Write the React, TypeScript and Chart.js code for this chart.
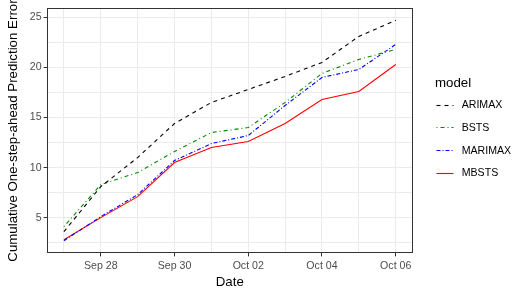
import React, { useEffect, useRef } from 'react';
import { Chart, registerables } from 'chart.js';

Chart.register(...registerables);

// ---- data ----
const dates = ['Sep 27', 'Sep 28', 'Sep 29', 'Sep 30', 'Oct 01', 'Oct 02', 'Oct 03', 'Oct 04', 'Oct 05', 'Oct 06'];
const xTickLabels = ['Sep 28', 'Sep 30', 'Oct 02', 'Oct 04', 'Oct 06'];
const yTickLabels = [5, 10, 15, 20, 25];
const models = ['ARIMAX', 'BSTS', 'MARIMAX', 'MBSTS'];

const arimax = [3.6, 8.1, 11.0, 14.4, 16.5, 17.8, 19.1, 20.5, 23.1, 24.7];
const bsts = [4.1, 8.3, 9.5, 11.6, 13.5, 14.0, 16.5, 19.4, 20.8, 21.8];
const marimax = [2.7, 5.1, 7.3, 10.7, 12.4, 13.2, 16.2, 19.0, 19.8, 22.3];
const mbsts = [2.8, 5.0, 7.1, 10.5, 12.0, 12.6, 14.4, 16.8, 17.6, 20.3];

const seriesValues = [arimax, bsts, marimax, mbsts];

// ---- styles ----
const lineColors = ['#000000', '#008B00', '#0000FF', '#FF0000'];
const lineDashes = [[4, 4], [1, 3, 4, 3], [4, 2, 1, 2], []];

const FONT = '"Liberation Sans", Arial, Helvetica, sans-serif';

const panelPlugin = {
  id: 'panelAndLegend',
  afterDraw(chart: any) {
    const { ctx, chartArea: a } = chart;
    ctx.save();
    ctx.strokeStyle = '#333333';
    ctx.lineWidth = 1;
    ctx.setLineDash([]);
    ctx.strokeRect(Math.round(a.left) + 0.5, Math.round(a.top) + 0.5, Math.round(a.right - a.left), Math.round(a.bottom - a.top));

    const lx = a.right + 22.7;
    ctx.fillStyle = '#000000';
    ctx.textBaseline = 'middle';
    ctx.textAlign = 'left';
    ctx.font = `13.3px ${FONT}`;
    ctx.fillText('model', lx, 83);
    chart.data.datasets.forEach((ds: any, i: number) => {
      const y = 104.5 + i * 22.8;
      ctx.strokeStyle = ds.borderColor;
      ctx.lineWidth = ds.borderWidth;
      ctx.setLineDash(ds.borderDash || []);
      ctx.beginPath();
      ctx.moveTo(lx + 1.5, Math.round(y) + 0.5);
      ctx.lineTo(lx + 18.5, Math.round(y) + 0.5);
      ctx.stroke();
      ctx.setLineDash([]);
      ctx.fillStyle = '#000000';
      ctx.font = `10.6px ${FONT}`;
      ctx.fillText(ds.label, lx + 26.7, y + 0.5);
    });
    ctx.restore();
  },
};

export default function App() {
  const canvasRef = useRef<HTMLCanvasElement | null>(null);

  useEffect(() => {
    if (!canvasRef.current) return;
    Chart.defaults.font.family = FONT;
    const chart = new Chart(canvasRef.current, {
      type: 'line',
      data: {
        datasets: models.map((m, i) => ({
          label: m,
          data: seriesValues[i].map((v, j) => ({ x: j, y: v })),
          borderColor: lineColors[i],
          borderDash: lineDashes[i],
          borderWidth: 1.1,
          pointRadius: 0,
          tension: 0,
          fill: false,
        })),
      },
      options: {
        animation: false,
        responsive: false,
        maintainAspectRatio: false,
        layout: { padding: { left: 0, right: 111.7, top: 7.3, bottom: 0 } },
        plugins: {
          legend: { display: false },
          tooltip: { enabled: false },
        },
        scales: {
          x: {
            type: 'linear',
            min: -0.45,
            max: dates.length - 1 + 0.45,
            afterBuildTicks: (scale: any) => {
              scale.ticks = dates.map((_, i) => ({ value: i }));
            },
            afterFit: (scale: any) => {
              scale.height = 41.3;
            },
            ticks: {
              autoSkip: false,
              maxRotation: 0,
              padding: 3,
              color: '#4D4D4D',
              font: { size: 10.6, family: FONT },
              callback: (v: any) => {
                const d = dates[Math.round(Number(v))];
                return xTickLabels.includes(d) ? d : '';
              },
            },
            grid: {
              color: '#EBEBEB',
              lineWidth: 1,
              drawTicks: true,
              tickLength: 3.7,
              tickColor: (c: any) => {
                const d = c.tick ? dates[Math.round(c.tick.value)] : '';
                return xTickLabels.includes(d) ? '#333333' : 'rgba(0,0,0,0)';
              },
            },
            border: { display: false },
            title: {
              display: true,
              text: 'Date',
              color: '#000000',
              font: { size: 13.3, family: FONT },
              padding: { top: 0, bottom: 3.3 },
            },
          },
          y: {
            type: 'linear',
            min: 1.5,
            max: 25.9,
            afterBuildTicks: (scale: any) => {
              const t: any[] = [];
              for (let v = 2.5; v <= 25; v += 2.5) t.push({ value: v });
              scale.ticks = t;
            },
            afterFit: (scale: any) => {
              scale.width = 47.3;
            },
            ticks: {
              autoSkip: false,
              padding: 2,
              color: '#4D4D4D',
              font: { size: 10.6, family: FONT },
              callback: (v: any) => (yTickLabels.includes(Number(v)) ? String(v) : ''),
            },
            grid: {
              color: '#EBEBEB',
              lineWidth: 1,
              drawTicks: true,
              tickLength: 3.7,
              tickColor: (c: any) => (c.tick && yTickLabels.includes(c.tick.value) ? '#333333' : 'rgba(0,0,0,0)'),
            },
            border: { display: false },
            title: {
              display: true,
              text: 'Cumulative One-step-ahead Prediction Error',
              color: '#000000',
              font: { size: 13.3, family: FONT },
              padding: { top: 5.3, bottom: 0 },
            },
          },
        },
      } as any,
      plugins: [panelPlugin],
    });
    return () => chart.destroy();
  }, []);

  return (
    <div style={{ position: 'absolute', left: 0, top: 0, width: 524, height: 294, background: '#FFFFFF' }}>
      <canvas ref={canvasRef} width={524} height={294} style={{ display: 'block', width: 524, height: 294 }} />
    </div>
  );
}
